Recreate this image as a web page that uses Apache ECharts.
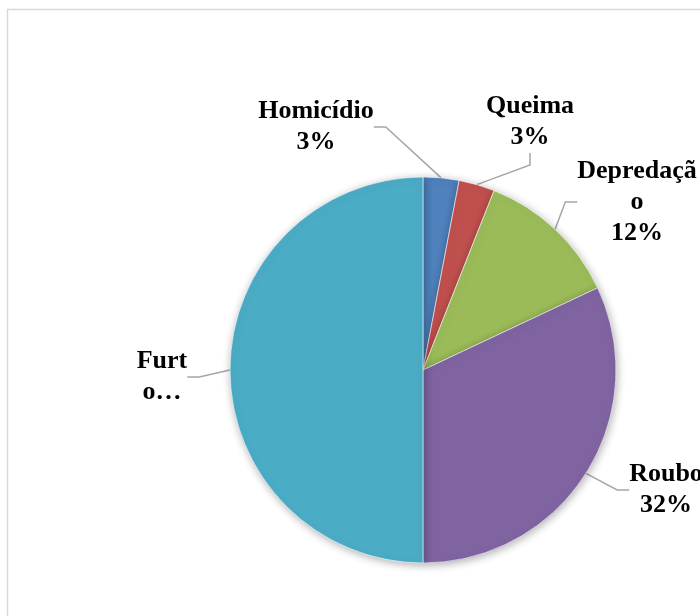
<!DOCTYPE html>
<html>
<head>
<meta charset="utf-8">
<style>html,body{margin:0;padding:0;background:#fff;}#c{width:700px;height:616px;}</style>
<script src="https://cdn.jsdelivr.net/npm/echarts@6/dist/echarts.min.js"></script>
</head>
<body>
<div id="c"></div>
<script>
const categories = ['Homicídio', 'Queima', 'Depredação', 'Roubo', 'Furto'];
const values = [3, 3, 12, 32, 50];
const labelTexts = ['Homicídio\n3%', 'Queima\n3%', 'Depredaçã\no\n12%', 'Roubo\n32%', 'Furt\no…'];
const colors = ['#4F81BD', '#C0504D', '#9BBB59', '#8064A2', '#4BACC6'];
const labelPos = [[316, 127], [530, 122], [637, 202], [666, 490], [162, 377]];

const chart = echarts.init(document.getElementById('c'), null, {renderer: 'canvas'});
chart.setOption({
  backgroundColor: '#fff',
  animation: false,
  graphic: [{
    type: 'rect',
    shape: {x: 7.5, y: 9.5, width: 800, height: 700},
    style: {fill: 'none', stroke: '#d9d9d9', lineWidth: 1.5},
    silent: true, z: -1
  }],
  series: [{
    type: 'pie',
    center: [423, 370],
    radius: 193,
    startAngle: 90,
    clockwise: true,
    avoidLabelOverlap: false,
    data: categories.map((c, i) => ({
      name: c, value: values[i],
      itemStyle: {color: colors[i]},
      label: {formatter: labelTexts[i]}
    })),
    itemStyle: {
      borderColor: '#fff', borderWidth: 0.6,
      shadowBlur: 8, shadowColor: 'rgba(0,0,0,0.3)', shadowOffsetX: 1, shadowOffsetY: 2
    },
    label: {
      show: true,
      position: 'outside',
      fontFamily: '"Liberation Serif", "Times New Roman", serif',
      fontWeight: 'bold',
      fontSize: 26,
      lineHeight: 31,
      color: '#000',
      align: 'center'
    },
    labelLine: {
      show: true,
      length: 15, length2: 12,
      lineStyle: {color: '#a6a6a6', width: 1.5}
    },
    labelLayout: function (p) {
      const pos = labelPos[p.dataIndex];
      return {x: pos[0], y: pos[1], align: 'center', verticalAlign: 'middle'};
    }
  }]
});
</script>
</body>
</html>
